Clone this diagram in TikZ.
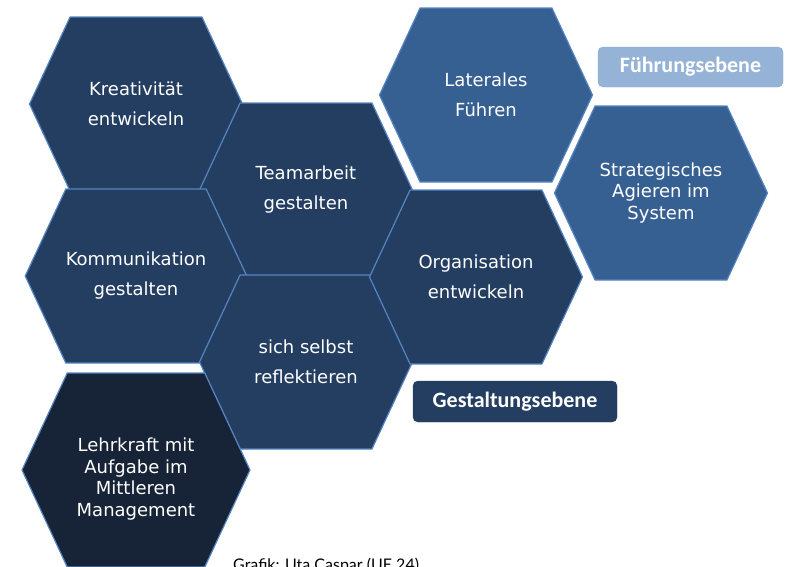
\documentclass[tikz,border=0pt]{standalone}
\usepackage{fontspec}
\setmainfont{DejaVu Sans}
\newfontfamily\levelfont{Carlito}
\newfontfamily\creditfont{Lato}
\usetikzlibrary{shapes.symbols}

\definecolor{hexdark}{HTML}{243E61}
\definecolor{hexlight}{HTML}{376092}
\definecolor{hexcore}{HTML}{172337}
\definecolor{hexline}{HTML}{5585C0}
\definecolor{levellight}{HTML}{95B3D7}

\tikzset{
  hexa/.style={signal, signal to=west and east, signal pointer angle=130,
    draw=hexline, line width=1.2pt, fill=hexdark, text=white, inner sep=0pt,
    minimum width=213pt, minimum height=174pt, align=center,
    font=\fontsize{18}{30}\selectfont},
  level/.style={rounded corners=5pt, draw=hexline, text=white,
    minimum width=185pt, minimum height=40pt, font=\levelfont\bfseries\fontsize{22}{24}\selectfont}
}

\begin{document}
\begin{tikzpicture}[x=1pt,y=-1pt]
\useasboundingbox (0,0) rectangle (785,566);
\foreach \x/\y/\n/\t in {136/104/krea/Kreativität\\entwickeln, 306/190/team/Teamarbeit\\gestalten,
    136/276/komm/Kommunikation\\gestalten, 306/362/refl/sich selbst\\reflektieren,
    476/277/orga/Organisation\\entwickeln}
  \node[hexa] (\n) at (\x,\y) {\t};
\node[hexa,fill=hexlight] (lat) at (486,95) {Laterales\\Führen};
\node[hexa,fill=hexlight,font=\fontsize{18}{21.7}\selectfont] (strat) at (661,193) {Strategisches\\Agieren im\\System};
\node[hexa,fill=hexcore,minimum width=228pt,minimum height=194pt] (lehr) at (136,470) {};
\node[align=center,text=white,font=\fontsize{18}{21.7}\selectfont] (lehrtext) at (136,479)
  {Lehrkraft mit\\Aufgabe im\\Mittleren\\Management};

\node[level,fill=levellight,draw=levellight!80!hexline] (fuehr) at (690.5,67) {Führungsebene};
\node[level,fill=hexdark,draw=hexdark,minimum width=204pt,minimum height=41pt] (gestalt) at (515,401.5) {Gestaltungsebene};

\node[anchor=base west,inner sep=0pt,font=\creditfont\fontsize{16}{18}\selectfont] (credit) at (233,570) {Grafik: Uta Caspar (UE 24)};
\end{tikzpicture}
\end{document}
